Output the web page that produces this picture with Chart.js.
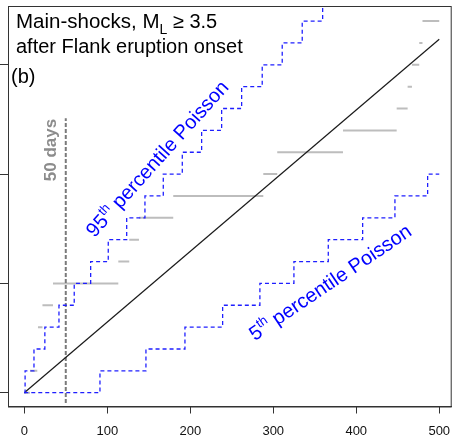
<!DOCTYPE html>
<html>
<head>
<meta charset="utf-8">
<script src="https://cdn.jsdelivr.net/npm/chart.js@4/dist/chart.umd.min.js"></script>
<style>
    html, body { margin: 0; padding: 0; background: #fff; overflow: hidden; }
    #wrap { width: 456px; height: 436px; }
</style>
</head>
<body>
<div id="wrap"><canvas id="shockChart" width="456" height="436"></canvas></div>
<script>
// Observed main-shock times (days after eruption onset), one per event
const eventDays = [6.9, 15.7, 16.5, 21.9, 34.6, 113.3, 126.5, 138.2, 179.5, 288, 304.8, 384, 448.7, 461.9, 467.1, 475.9, 479.8];
// Days at which the 95th / 5th percentile Poisson counts step up by one
const p95Days = [1, 11.7, 24.8, 41.8, 60.2, 80, 101.2, 123.4, 145.4, 167.5, 190.4, 213.7, 237.8, 261.9, 286.7, 310.8, 334.9, 359.5];
const p5Days = [91.2, 146.6, 193.6, 239, 283.9, 324.9, 366.3, 407.7, 446.6, 486];
// Expected count line (mean rate)
const expectedDays = [0, 500];
const expectedCounts = [0, 16.17];
// "50 days" marker
const markerDay = 50;
const markerRange = [-0.47, 12.55];
// Axis ticks
const xTicks = [0, 100, 200, 300, 400, 500];
const yTicks = [0, 5, 10, 15];
const endDay = 500;

const FONT = '"Liberation Sans", Arial, Helvetica, sans-serif';

// where the plot box should sit on the canvas
const AREA = { left: 8, top: 6, right: 451.7, bottom: 406.5 };

function stepPoints(days) {
    const pts = [{ x: 0, y: 0 }];
    days.forEach(function(d, i) { pts.push({ x: d, y: i + 1 }); });
    pts.push({ x: endDay, y: days.length });
    return pts;
}

function observedSegments() {
    // horizontal pieces only, split by null points
    const pts = [];
    for (let i = 0; i <= eventDays.length; i++) {
        const start = i === 0 ? 0 : eventDays[i - 1];
        const end = i < eventDays.length ? eventDays[i] : endDay;
        pts.push({ x: start, y: i }, { x: end, y: i }, { x: end, y: null });
    }
    return pts;
}

// draw a text made of pieces (for super/subscripts)
function drawRich(ctx, parts, x, y, angle, align) {
    ctx.save();
    ctx.translate(x, y);
    ctx.rotate(angle * Math.PI / 180);
    let total = 0;
    parts.forEach(function(p) {
        ctx.font = (p.weight || '') + ' ' + p.size + 'px ' + FONT;
        p.w = ctx.measureText(p.t).width;
        total += p.w;
    });
    let cx = align === 'center' ? -total / 2 : 0;
    ctx.textAlign = 'left';
    ctx.textBaseline = 'alphabetic';
    parts.forEach(function(p) {
        ctx.font = (p.weight || '') + ' ' + p.size + 'px ' + FONT;
        ctx.fillText(p.t, cx, p.dy || 0);
        cx += p.w;
    });
    ctx.restore();
}

const annotations = {
    id: 'annotations',
    afterDraw: function(chart) {
        const ctx = chart.ctx;
        const area = chart.chartArea;
        const xs = chart.scales.x;
        const ys = chart.scales.y;

        // plot box
        ctx.save();
        ctx.strokeStyle = '#333';
        ctx.lineWidth = 1;
        ctx.strokeRect(area.left + 0.5, area.top + 0.5, area.right - area.left - 1, area.bottom - area.top);
        ctx.restore();

        // title block
        ctx.save();
        ctx.fillStyle = '#000';
        drawRich(ctx, [
            { t: 'Main-shocks, M', size: 20.5 },
            { t: 'L', size: 14, dy: 6 },
            { t: ' \u2265 3.5', size: 20 }
        ], area.left + 8, 28, 0, 'left');
        drawRich(ctx, [{ t: 'after Flank eruption onset', size: 20 }], area.left + 8, 53, 0, 'left');
        drawRich(ctx, [{ t: '(b)', size: 20 }], area.left + 3, 83, 0, 'left');

        // 50 days label
        ctx.fillStyle = '#8c8c8c';
        drawRich(ctx, [{ t: '50 days', size: 17, weight: 'bold' }],
            xs.getPixelForValue(38.2), ys.getPixelForValue(11.1), -90, 'center');

        // percentile labels
        ctx.fillStyle = '#0000ff';
        drawRich(ctx, [
            { t: '95', size: 20 },
            { t: 'th', size: 13, dy: -8 },
            { t: ' percentile Poisson', size: 20 }
        ], xs.getPixelForValue(166), ys.getPixelForValue(10.5), -48, 'center');
        drawRich(ctx, [
            { t: '5', size: 20 },
            { t: 'th', size: 13, dy: -8 },
            { t: ' percentile Poisson', size: 20 }
        ], xs.getPixelForValue(373), ys.getPixelForValue(4.8), -34, 'center');
        ctx.restore();
    }
};

const ctx = document.getElementById('shockChart');
const chart = new Chart(ctx, {
    type: 'line',
    data: {
        datasets: [
            {
                label: '95th percentile',
                data: stepPoints(p95Days),
                stepped: 'before',
                borderColor: '#1f1fff',
                borderWidth: 1.3,
                borderDash: [4, 3],
                pointRadius: 0
            },
            {
                label: '5th percentile',
                data: stepPoints(p5Days),
                stepped: 'before',
                borderColor: '#1f1fff',
                borderWidth: 1.3,
                borderDash: [4, 3],
                pointRadius: 0
            },
            {
                label: 'Expected',
                data: expectedDays.map(function(d, i) { return { x: d, y: expectedCounts[i] }; }),
                borderColor: '#1a1a1a',
                borderWidth: 1.2,
                pointRadius: 0
            },
            {
                label: '50 days',
                data: markerRange.map(function(v) { return { x: markerDay, y: v }; }),
                borderColor: '#7a7a7a',
                borderWidth: 2,
                borderDash: [4, 2],
                pointRadius: 0
            },
            {
                label: 'Observed',
                data: observedSegments(),
                borderColor: '#bdbdbd',
                borderWidth: 2,
                spanGaps: false,
                pointRadius: 0
            }
        ]
    },
    options: {
        responsive: false,
        animation: false,
        layout: { autoPadding: false, padding: { left: 0, top: 6, right: 4, bottom: 0 } },
        plugins: {
            legend: { display: false },
            tooltip: { enabled: false }
        },
        scales: {
            x: {
                type: 'linear',
                min: -19.6,
                max: 515,
                afterBuildTicks: function(axis) {
                    axis.ticks = xTicks.map(function(v) { return { value: v }; });
                },
                afterFit: function(axis) {
                    // labels fit inside the canvas, no extra side padding wanted
                    axis.paddingLeft = 0;
                    axis.paddingRight = 0;
                },
                ticks: {
                    color: '#111',
                    padding: 11,
                    maxRotation: 0,
                    font: { family: FONT, size: 13, lineHeight: 1 }
                },
                grid: { drawOnChartArea: false, tickLength: 7, color: '#333' },
                border: { color: '#333' }
            },
            y: {
                type: 'linear',
                min: -0.631,
                max: 17.69,
                afterBuildTicks: function(axis) {
                    axis.ticks = yTicks.map(function(v) { return { value: v }; });
                },
                ticks: { display: false },
                grid: { drawOnChartArea: false, tickLength: 8, color: '#333' },
                border: { color: '#333' }
            }
        }
    },
    plugins: [annotations]
});

// nudge the layout padding so the plot box lands where the reference has it
const pad = chart.options.layout.padding;
const a = chart.chartArea;
pad.left += AREA.left - a.left;
pad.top += AREA.top - a.top;
pad.right += a.right - AREA.right;
pad.bottom += a.bottom - AREA.bottom;
chart.update();
</script>
</body>
</html>
